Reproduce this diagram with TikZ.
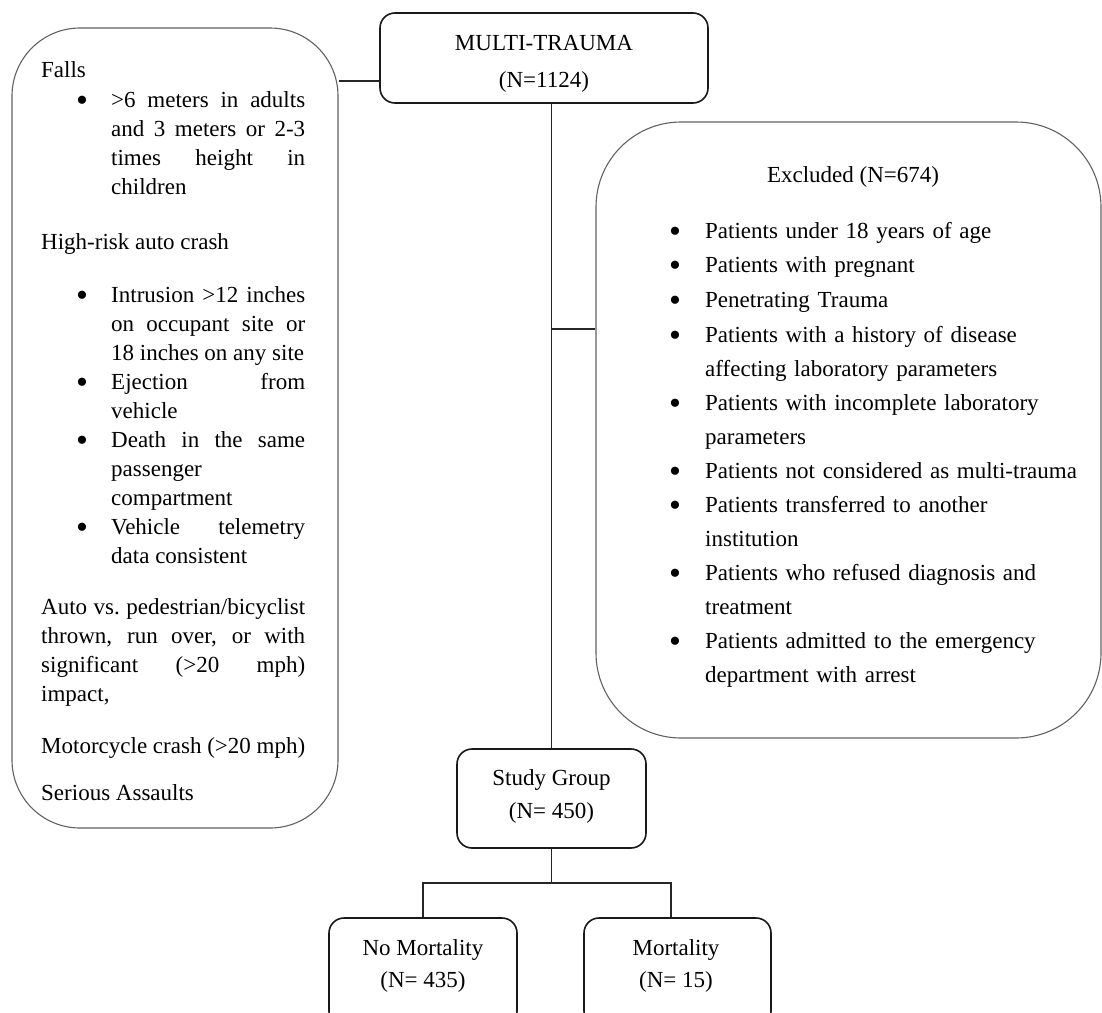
\documentclass[tikz,border=0pt]{standalone}
\usepackage{fontspec}
\setmainfont{Liberation Serif}
\tolerance=10000 \hbadness=10000 \hyphenpenalty=10000 \exhyphenpenalty=10000
\begin{document}
\begin{tikzpicture}[x=1pt,y=-1pt,
  bigbox/.style={draw=black!62, line width=1.1pt, inner sep=0pt},
  smallbox/.style={draw=black!90, line width=1.6pt, rounded corners=15pt, inner sep=0pt},
  conn/.style={draw=black!85, line width=1.5pt},
  txt/.style={inner sep=0pt, font=\fontsize{23}{29}\selectfont},
  rtxt/.style={inner sep=0pt, font=\fontsize{23}{34}\selectfont},
  lpar/.style={txt, anchor=base west, text width=264pt, align=justify},
  lbul/.style={txt, anchor=base west, text width=194pt, align=justify},
  rbul/.style={rtxt, anchor=base west, text width=390pt, align=left},
  dot/.style={inner sep=0pt, anchor=base, yshift=-4pt, font=\fontsize{34}{34}\selectfont}
]
\useasboundingbox (0,0) rectangle (1102,1012);
\fill[white] (0,0) rectangle (1102,1012);

% boxes
\node[bigbox, rounded corners=68pt, minimum width=326pt, minimum height=800pt] (lb) at (175,428) {};
\node[smallbox, minimum width=328pt, minimum height=90pt] (mt) at (544,58) {};
\node[bigbox, rounded corners=85pt, minimum width=505pt, minimum height=616pt] (ex) at (848.5,430) {};
\node[smallbox, minimum width=189pt, minimum height=99pt] (sg) at (551.5,798.5) {};
\node[smallbox, minimum width=188pt, minimum height=108pt] (nm) at (423,972) {};
\node[smallbox, minimum width=187pt, minimum height=108pt] (mo) at (677.5,972) {};

% box titles
\node[txt, anchor=base] (mt1) at (544,50) {MULTI-TRAUMA};
\node[txt, anchor=base] (mt2) at (544,87) {(N=1124)};
\node[txt, anchor=base] (sg1) at (551.5,785) {Study Group};
\node[txt, anchor=base] (sg2) at (551.5,818) {(N= 450)};
\node[txt, anchor=base] (nm1) at (423,955) {No Mortality};
\node[txt, anchor=base] (nm2) at (423,987) {(N= 435)};
\node[txt, anchor=base] (mo1) at (676,955) {Mortality};
\node[txt, anchor=base] (mo2) at (676,987) {(N= 15)};

% left box text
\node[txt, anchor=base west] (falls) at (41,77) {Falls};
\node[dot] (d1) at (82,107) {\textbullet};
\node[lbul] (t1) at (111,107) {>6 meters in adults\linebreak and 3 meters or 2-3\linebreak times height in\linebreak children};
\node[txt, anchor=base west] (hr) at (41,249) {High-risk auto crash};
\node[dot] (d2) at (82,302) {\textbullet};
\node[lbul] (t2) at (111,302) {Intrusion >12 inches\linebreak on occupant site or\linebreak 18 inches on any site};
\node[dot] (d3) at (82,389) {\textbullet};
\node[lbul] (t3) at (111,389) {Ejection from\linebreak vehicle};
\node[dot] (d4) at (82,447) {\textbullet};
\node[lbul] (t4) at (111,447) {Death in the same\linebreak passenger\linebreak compartment};
\node[dot] (d5) at (82,534) {\textbullet};
\node[lbul] (t5) at (111,534) {Vehicle telemetry\linebreak data consistent};
\node[lpar] (auto) at (41,614) {Auto vs.\ pedestrian/bicyclist\linebreak thrown, run over, or with\linebreak significant (>20 mph)\linebreak impact,};
\node[txt, anchor=base west] (moto) at (41,753) {Motorcycle crash (>20 mph)};
\node[txt, anchor=base west] (assault) at (41,800) {Serious Assaults};

% excluded box text
\node[txt, anchor=base] (ext) at (853,182) {Excluded (N=674)};
\node[dot] (e1) at (675,238) {\textbullet};
\node[rbul] (x1) at (705,238) {Patients under 18 years of age};
\node[dot] (e2) at (675,272) {\textbullet};
\node[rbul] (x2) at (705,272) {Patients with pregnant};
\node[dot] (e3) at (675,307) {\textbullet};
\node[rbul] (x3) at (705,307) {Penetrating Trauma};
\node[dot] (e4) at (675,342) {\textbullet};
\node[rbul] (x4) at (705,342) {Patients with a history of disease\\affecting laboratory parameters};
\node[dot] (e5) at (675,410) {\textbullet};
\node[rbul] (x5) at (705,410) {Patients with incomplete laboratory\\parameters};
\node[dot] (e6) at (675,478) {\textbullet};
\node[rbul] (x6) at (705,478) {Patients not considered as multi-trauma};
\node[dot] (e7) at (675,512) {\textbullet};
\node[rbul] (x7) at (705,512) {Patients transferred to another\\institution};
\node[dot] (e8) at (675,580) {\textbullet};
\node[rbul] (x8) at (705,580) {Patients who refused diagnosis and\\treatment};
\node[dot] (e9) at (675,648) {\textbullet};
\node[rbul] (x9) at (705,648) {Patients admitted to the emergency\\department with arrest};

% connectors
\coordinate (c1) at (0,81);
\coordinate (c2) at (0,329);
\coordinate (c3) at (0,883);
\coordinate (bR) at (671,883);
\draw[conn] (lb.east |- c1) -- (mt.west |- c1);
\draw[conn] (mt.south -| sg.north) -- (sg.north);
\draw[conn] (sg.north |- c2) -- (ex.west |- c2);
\draw[conn] (sg.south) -- (sg.south |- c3);
\draw[conn] (nm.north) -- (nm.north |- c3) -- (bR) -- (bR |- mo.north);
\end{tikzpicture}
\end{document}
